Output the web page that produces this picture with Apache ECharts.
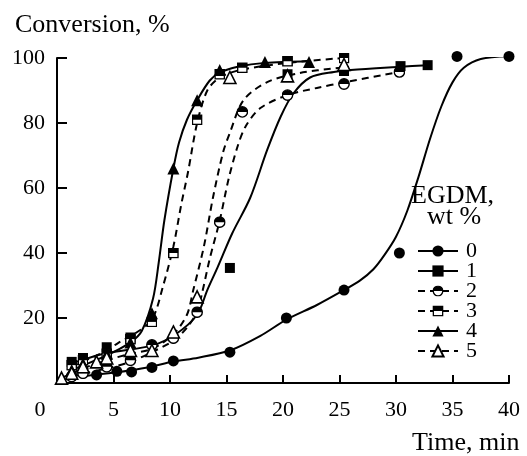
<!DOCTYPE html>
<html>
<head>
<meta charset="utf-8">
<script src="https://cdn.jsdelivr.net/npm/echarts@6/dist/echarts.min.js"></script>
<style>
html, body { margin: 0; padding: 0; background: #fff; }
#ech { width: 527px; height: 456px; }
</style>
</head>
<body>
<div id="ech"></div>
<script>
// EGDM content, wt %
var names = ['0', '1', '2', '3', '4', '5'];
var xTicks = [0, 5, 10, 15, 20, 25, 30, 35, 40];
var yTicks = [20, 40, 60, 80, 100];

// measured points (time, min / conversion, %)
var t0 = [3.5, 5.3, 6.6, 8.4, 10.3, 15.3, 20.3, 25.4, 30.3, 35.4, 40];
var v0 = [2.5, 3.6, 3.4, 4.8, 6.8, 9.5, 20, 28.6, 40, 100.5, 100.5];
var t1 = [1.3, 2.3, 4.4, 6.5, 15.3, 20.4, 25.4, 30.4, 32.8];
var v1 = [6.5, 7.7, 11, 14, 35.4, 95, 96, 97.5, 97.8];
var t2 = [1.3, 2.3, 4.4, 6.5, 8.4, 10.3, 12.4, 14.4, 16.4, 20.4, 25.4, 30.3];
var v2 = [2, 3, 5, 7, 11.7, 13.8, 21.8, 49.5, 83.4, 88.6, 92, 95.7];
var t3 = [1.3, 2.3, 4.4, 6.5, 8.4, 10.3, 12.4, 14.4, 16.4, 20.4, 25.4];
var v3 = [5.5, 7, 9, 13.5, 18.8, 40, 81, 95, 97, 99, 100];
var t4 = [1.3, 2.3, 4.4, 6.5, 8.4, 10.3, 12.4, 14.4, 18.4, 22.3];
var v4 = [4, 6, 9, 12.5, 21.5, 66, 87, 96.3, 98.8, 98.8];
var t5 = [0.4, 1.3, 2.3, 3.5, 4.4, 6.5, 8.4, 10.3, 12.4, 15.3, 20.4, 25.4];
var v5 = [1.5, 3, 5, 6.5, 7.7, 10, 10, 15.7, 26.5, 94, 94.5, 98];

// fitted curves
var ct0 = [2, 3.5, 5.5, 8, 10.3, 12.5, 15.3, 18, 20.3, 23, 25.4, 26.8, 28, 29, 30, 31, 32, 33, 34, 35, 36, 37.5, 40];
var cv0 = [2, 2.6, 3.4, 4.8, 6.6, 7.8, 10, 14.5, 19.5, 24, 28.6, 31.5, 35, 39.5, 45, 53, 63.5, 75, 85, 92.5, 97, 99.7, 100.5];
var ct1 = [1.3, 4.4, 8.4, 10.5, 12.4, 13.3, 14.2, 15.5, 17.1, 18.6, 19.8, 20.9, 22.4, 24.5, 26, 30.4, 32.8];
var cv1 = [6, 9.2, 11.5, 15, 21, 28.6, 35.5, 46, 57, 71.7, 82, 89, 94, 95.7, 96.3, 97.3, 97.8];
var ct2 = [1.3, 4.4, 6.5, 8.4, 10.3, 11.5, 12.4, 12.9, 13.5, 14.4, 15.2, 16, 16.7, 18, 20.4, 23, 25.4, 30.3];
var cv2 = [2, 4.5, 6.5, 9.5, 13, 17, 22, 28.6, 38, 50, 63, 73, 79, 84.6, 88.6, 90.8, 92.5, 95.7];
var ct3 = [1.3, 4.4, 5.4, 6.8, 8.4, 9.4, 10.3, 11, 11.6, 12.4, 13.3, 14.4, 16.2, 20.4, 25.4];
var cv3 = [5, 10, 12.3, 15, 19.5, 30, 42, 55, 65, 80, 90, 94, 96.3, 98.5, 100];
var ct4 = [1.3, 4.4, 6.5, 7.5, 8.5, 9, 9.5, 10.3, 10.8, 11.5, 12.4, 13.5, 14.4, 16, 18.4, 22.3];
var cv4 = [4, 8.5, 12.5, 16, 26, 37, 50, 66, 74, 81, 87, 93, 95.5, 97.3, 98.5, 99];
var ct5 = [0.4, 2.3, 4.4, 6.5, 8.4, 10.3, 11.5, 12.06, 13, 13.8, 14.7, 15.3, 16.5, 18.6, 21.5, 25.1];
var cv5 = [1.5, 4.5, 7, 9, 10.5, 15, 21, 28.6, 42, 57, 71, 77, 87, 92.6, 95.4, 97];

function pairs(t, v) {
	var out = [];
	for (var i = 0; i < t.length; i++) {
		out.push([t[i], v[i]]);
	}
	return out;
}

function svgSym(body) {
	return 'image://data:image/svg+xml;utf8,' + encodeURIComponent(
		"<svg xmlns='http://www.w3.org/2000/svg' width='20' height='20' viewBox='0 0 20 20'>" + body + '</svg>');
}
var halfCircle = svgSym("<circle cx='10' cy='10' r='8.6' fill='white' stroke='black' stroke-width='2.4'/>" +
	"<path d='M1.4 10 A8.6 8.6 0 0 1 18.6 10 Z' fill='black'/>");
var halfSquare = svgSym("<rect x='1.5' y='1.5' width='17' height='17' fill='white' stroke='black' stroke-width='2.6'/>" +
	"<rect x='1.5' y='1.5' width='17' height='8.5' fill='black'/>");

var points = [pairs(t0, v0), pairs(t1, v1), pairs(t2, v2), pairs(t3, v3), pairs(t4, v4), pairs(t5, v5)];
var curves = [pairs(ct0, cv0), pairs(ct1, cv1), pairs(ct2, cv2), pairs(ct3, cv3), pairs(ct4, cv4), pairs(ct5, cv5)];
var dashed = [false, false, true, true, false, true];
var symLine = ['circle', 'rect', halfCircle, halfSquare, 'triangle', 'emptyTriangle'];
var symDot = ['circle', 'rect', halfCircle, halfSquare, 'triangle', 'triangle'];
var sizes = [11, 10, 12, 11, 12, 12];

var font = 'Liberation Serif';

function showEchart() {
	var myChart = echarts.init(document.getElementById('ech'));
	var series = [];
	// curves first, so the legend takes its icon from them
	for (var i = 0; i < names.length; i++) {
		series.push({
			name: names[i],
			type: 'line',
			data: curves[i],
			smooth: 0.3,
			showSymbol: false,
			symbol: symLine[i],
			symbolSize: sizes[i],
			color: '#000',
			lineStyle: { color: '#000', width: 2, type: dashed[i] ? [7, 5] : 'solid' },
			itemStyle: { color: '#000' },
			silent: true,
			z: 2
		});
	}
	for (var j = 0; j < names.length; j++) {
		series.push({
			name: names[j],
			type: 'scatter',
			data: points[j],
			symbol: symDot[j],
			symbolSize: sizes[j],
			clip: false,
			itemStyle: j === 5 ? { color: '#fff', borderColor: '#000', borderWidth: 1.6, opacity: 1 } : { color: '#000', opacity: 1 },
			z: 3
		});
	}

	var option = {
		animation: false,
		grid: { left: 57, top: 58, right: 18, bottom: 73 },
		xAxis: {
			type: 'value',
			min: 0,
			max: 40,
			interval: 5,
			axisLine: { lineStyle: { color: '#000', width: 2 } },
			axisTick: { inside: true, length: 8, lineStyle: { color: '#000', width: 2 } },
			splitLine: { show: false },
			axisLabel: {
				margin: 16,
				color: '#000',
				fontFamily: font,
				fontSize: 22,
				formatter: function (v) {
					return v === 0 ? '{z|0}' : String(v);
				},
				rich: { z: { fontFamily: font, fontSize: 22, color: '#000', padding: [0, 34, 0, 0] } }
			}
		},
		yAxis: {
			type: 'value',
			min: 0,
			max: 100,
			interval: 20,
			axisLine: { show: true, lineStyle: { color: '#000', width: 2 } },
			axisTick: { show: true, inside: true, length: 10, lineStyle: { color: '#000', width: 2 } },
			splitLine: { show: false },
			axisLabel: {
				margin: 12,
				color: '#000',
				fontFamily: font,
				fontSize: 22,
				formatter: function (v) {
					return yTicks.indexOf(v) >= 0 ? String(v) : '';
				}
			}
		},
		legend: {
			data: names,
			orient: 'vertical',
			left: 417,
			top: 240,
			padding: 0,
			itemWidth: 40,
			itemHeight: 14,
			itemGap: -2,
			selectedMode: false,
			textStyle: { fontFamily: font, fontSize: 22, color: '#000', lineHeight: 20, padding: [0, 0, 0, 3] }
		},
		graphic: [
			{ type: 'text', left: 15, top: 12, style: { text: 'Conversion, %', font: '26px "Liberation Serif"', fill: '#000' } },
			{ type: 'text', left: 412, top: 430, style: { text: 'Time, min', font: '26px "Liberation Serif"', fill: '#000' } },
			{ type: 'text', left: 411, top: 183, style: { text: 'EGDM,', font: '26px "Liberation Serif"', fill: '#000' } },
			{ type: 'text', left: 427, top: 204, style: { text: 'wt %', font: '26px "Liberation Serif"', fill: '#000' } }
		],
		series: series
	};
	myChart.setOption(option);
}
showEchart();
</script>
</body>
</html>
